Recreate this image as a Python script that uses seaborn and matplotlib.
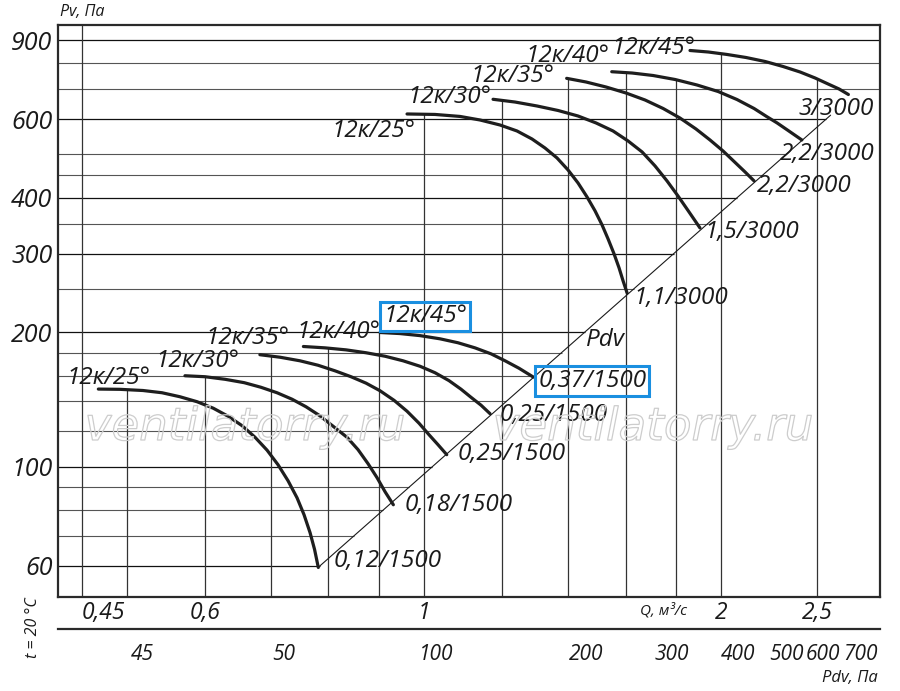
import numpy as np
import pandas as pd
import seaborn as sns
import matplotlib.pyplot as plt
import matplotlib.ticker as ticker
import matplotlib.patheffects as pe

# --- data (Q in m3/s, Pv in Pa) ---
q_3000_25 = [0.9609, 1.0257, 1.0873, 1.1392, 1.1935, 1.2418, 1.2860, 1.3255, 1.3631, 1.3985,
             1.4316, 1.4621, 1.4897, 1.5142, 1.5355, 1.5571, 1.5754, 1.5902, 1.6050]
p_3000_25 = [615.8, 614.3, 608.0, 597.0, 581.8, 564.1, 541.3, 516.8, 491.0, 461.6,
             431.6, 401.5, 373.7, 347.6, 323.5, 299.5, 278.6, 260.6, 245.0]
q_3000_30 = [1.1743, 1.2360, 1.3014, 1.3668, 1.4316, 1.4932, 1.5535, 1.6089, 1.6624, 1.7132,
             1.7618, 1.8075, 1.8544, 1.9025]
p_3000_30 = [664.2, 654.9, 641.6, 626.9, 609.4, 587.9, 564.1, 535.8, 506.3, 471.2,
             436.1, 403.6, 371.8, 342.3]
q_3000_35 = [1.3942, 1.4587, 1.5284, 1.6014, 1.6740, 1.7460, 1.8156, 1.8849, 1.9475, 2.0075,
             2.0597, 2.1135, 2.1584]
p_3000_35 = [739.9, 726.1, 707.6, 686.0, 661.7, 633.4, 603.2, 570.0, 538.6, 509.0,
             482.2, 456.7, 436.1]
q_3000_40 = [1.5488, 1.6240, 1.7056, 1.7954, 1.8893, 1.9848, 2.0741, 2.1584, 2.2236, 2.2776,
             2.3368, 2.4127]
p_3000_40 = [765.6, 760.5, 750.8, 735.5, 715.0, 691.4, 663.4, 633.4, 607.3, 587.9,
             565.5, 538.6]
q_3000_45 = [1.8588, 1.9398, 2.0263, 2.1184, 2.2148, 2.3091, 2.4032, 2.4885, 2.5650, 2.6316,
             2.6893]
p_3000_45 = [854.1, 847.5, 836.8, 823.8, 807.0, 786.5, 764.4, 741.2, 718.7, 700.4, 680.8]

q_1500_25 = [0.4678, 0.4920, 0.5191, 0.5427, 0.5659, 0.5888, 0.6115, 0.6331, 0.6542, 0.6741,
             0.6933, 0.7113, 0.7281, 0.7435, 0.7557, 0.7664, 0.7745, 0.7813]
p_1500_25 = [149.2, 149.0, 148.1, 146.4, 143.4, 139.8, 135.2, 129.7, 123.5, 116.4,
             108.9, 101.0, 93.0, 85.2, 78.1, 71.2, 65.3, 59.5]
q_1500_30 = [0.5725, 0.5999, 0.6287, 0.6573, 0.6834, 0.7096, 0.7349, 0.7592, 0.7826, 0.8087,
             0.8353, 0.8571, 0.8773, 0.8960, 0.9129, 0.9307]
p_1500_30 = [159.8, 159.0, 156.9, 154.2, 150.6, 146.4, 141.6, 136.2, 130.4, 123.2,
             116.4, 109.2, 101.6, 94.5, 87.9, 82.2]
q_1500_35 = [0.6818, 0.7147, 0.7486, 0.7807, 0.8124, 0.8432, 0.8734, 0.9023, 0.9322, 0.9609,
             0.9882, 1.0115, 1.0329, 1.0541]
p_1500_35 = [178.1, 175.8, 172.6, 168.7, 163.9, 159.0, 153.8, 147.9, 140.8, 133.1,
             125.1, 117.9, 112.0, 106.4]
q_1500_40 = [0.7546, 0.7937, 0.8336, 0.8734, 0.9129, 0.9520, 0.9905, 1.0257, 1.0598, 1.0898,
             1.1155, 1.1419, 1.1662]
p_1500_40 = [185.8, 184.5, 182.6, 179.9, 176.7, 172.6, 167.8, 162.3, 155.8, 149.1,
             143.0, 137.3, 131.4]
q_1500_45 = [0.9023, 0.9453, 0.9905, 1.0378, 1.0822, 1.1259, 1.1688, 1.2077, 1.2476, 1.2901]
p_1500_45 = [199.7, 198.6, 196.5, 193.3, 189.4, 184.5, 178.9, 172.6, 166.1, 158.7]

curve_names = ['12к/25°', '12к/30°', '12к/35°', '12к/40°', '12к/45°']
motor_3000 = ['1,1/3000', '1,5/3000', '2,2/3000', '2,2/3000', '3/3000']
motor_1500 = ['0,12/1500', '0,18/1500', '0,25/1500', '0,25/1500', '0,37/1500']

# dynamic pressure line
pdv_q = [0.781, 2.58]
pdv_p = [59.5, 612]

# grid and ticks
hgrid = [60, 70, 80, 90, 100, 120, 140, 160, 180, 200, 250, 300, 350, 400, 450,
         500, 600, 700, 800, 900]
vgrid = [0.45, 0.5, 0.6, 0.7, 0.8, 0.9, 1.0, 1.2, 1.4, 1.6, 1.8, 2.0, 2.5]
p_ticks = [60, 100, 200, 300, 400, 600, 900]
q_ticks = [0.45, 0.6, 1, 2, 2.5]
q_tick_labels = ['0,45', '0,6', '1', '2', '2,5']
pdv_tick_q = [0.518, 0.720, 1.028, 1.459, 1.783, 2.079, 2.325, 2.535, 2.763]
pdv_tick_labels = ['45', '50', '100', '200', '300', '400', '500', '600', '700']

curves_3000 = [(q_3000_25, p_3000_25), (q_3000_30, p_3000_30), (q_3000_35, p_3000_35),
               (q_3000_40, p_3000_40), (q_3000_45, p_3000_45)]
curves_1500 = [(q_1500_25, p_1500_25), (q_1500_30, p_1500_30), (q_1500_35, p_1500_35),
               (q_1500_40, p_1500_40), (q_1500_45, p_1500_45)]

rows = []
for speed, curves in [(3000, curves_3000), (1500, curves_1500)]:
    for name, (qs, ps) in zip(curve_names, curves):
        for q, p in zip(qs, ps):
            rows.append({'curve': f'{speed} {name}', 'q': q, 'p': p})
df = pd.DataFrame(rows)

sns.set_style('white')
plt.rcParams['font.family'] = ['Open Sans', 'DejaVu Sans']
plt.rcParams['font.style'] = 'italic'
TXT = dict(fontstyle='italic', color='#1a1a1a')

fig = plt.figure(figsize=(9, 6.91), dpi=100)
ax = fig.add_axes([58 / 900, 1 - 597 / 691, 822 / 900, 572 / 691])
ax.set_xscale('log')
ax.set_yscale('log')
xmin, xmax = 0.4258, 2.895
ymin, ymax = 51.1, 974
ax.set_xlim(xmin, xmax)
ax.set_ylim(ymin, ymax)

all_curves = curves_3000 + curves_1500

# horizontal grid lines stop at the Pdv line
slope = np.log(pdv_p[1] / pdv_p[0]) / np.log(pdv_q[1] / pdv_q[0])
for p in hgrid:
    if p <= pdv_p[1]:
        q_end = pdv_q[0] * (p / pdv_p[0]) ** (1 / slope)
    else:
        q_end = xmax
    dark = p in p_ticks
    ax.plot([xmin, q_end], [p, p], color='#111111' if dark else '#555555',
            lw=0.9 if dark else 0.8, zorder=1, solid_capstyle='butt')

# vertical grid lines go up to the highest curve above them
for q in vgrid:
    top = None
    for qs, ps in all_curves:
        if qs[0] * 0.98 <= q <= qs[-1]:
            v = np.interp(np.log(q), np.log(qs), ps)
            top = v if top is None else max(top, v)
    if top is None:
        top = ymax
    ax.plot([q, q], [ymin, top], color='#333333', lw=0.9, zorder=1, solid_capstyle='butt')

ax.plot(pdv_q, pdv_p, color='#1a1a1a', lw=0.8, zorder=2)

sns.lineplot(data=df, x='q', y='p', units='curve', estimator=None, sort=False,
             color='#1e1e1e', lw=2.3, ax=ax, zorder=3)
for line in ax.get_lines()[-10:]:
    line.set_solid_capstyle('round')
    line.set_solid_joinstyle('round')

# curve labels
start_off_3000 = [(8, -17), (-2, 2), (-12, 2), (-2, 16), (5, 2)]
end_off_3000 = [(6, -5), (5, -4), (3, -5), (-22, -14), (-50, -15)]
start_off_1500 = [(52, 11), (55, 15), (30, 17), (77, 14), (87, 16)]
end_off_1500 = [(15, 6), (11, 0), (11, 1), (10, -1), (5, -4)]
box = dict(boxstyle='square,pad=0.12', fc='none', ec='#1a8fe0', lw=2.2)
LBL = 17.5

for i, (qs, ps) in enumerate(curves_3000):
    ax.annotate(curve_names[i], (qs[0], ps[0]), xytext=start_off_3000[i],
                textcoords='offset pixels', ha='right', va='center', fontsize=LBL, zorder=4, **TXT)
    ax.annotate(motor_3000[i], (qs[-1], ps[-1]), xytext=end_off_3000[i],
                textcoords='offset pixels', ha='left', va='center', fontsize=LBL, zorder=4, **TXT)
for i, (qs, ps) in enumerate(curves_1500):
    b = box if i == 4 else None
    ax.annotate(curve_names[i], (qs[0], ps[0]), xytext=start_off_1500[i],
                textcoords='offset pixels', ha='right', va='center', fontsize=LBL, zorder=4,
                bbox=b, **TXT)
    ax.annotate(motor_1500[i], (qs[-1], ps[-1]), xytext=end_off_1500[i],
                textcoords='offset pixels', ha='left', va='center', fontsize=LBL, zorder=4,
                bbox=b, **TXT)

ax.text(1.46, 192, 'Pdv', ha='left', va='center', fontsize=LBL, zorder=4, **TXT)

# watermark
for xw in [245 / 900, 653 / 900]:
    fig.text(xw, 1 - 440 / 691, 'ventilatorry.ru', ha='center', va='baseline', fontsize=32.5,
             family='DejaVu Sans', fontweight='light', fontstyle='italic',
             color=(1, 1, 1, 0), zorder=5,
             path_effects=[pe.Stroke(linewidth=0.9, foreground='#cdcdcd')])

# axes styling
ax.set_xlabel('')
ax.set_ylabel('')
ax.yaxis.set_major_locator(ticker.FixedLocator(p_ticks))
ax.yaxis.set_major_formatter(ticker.FixedFormatter([str(v) for v in p_ticks]))
ax.yaxis.set_minor_locator(ticker.NullLocator())
ax.xaxis.set_major_locator(ticker.FixedLocator(q_ticks))
ax.xaxis.set_major_formatter(ticker.FixedFormatter(q_tick_labels))
ax.xaxis.set_minor_locator(ticker.NullLocator())
ax.tick_params(axis='both', length=0, labelcolor='#1a1a1a')
ax.tick_params(axis='y', pad=4, labelsize=18)
ax.tick_params(axis='x', pad=3, labelsize=16.5)
ax.get_xticklabels()[0].set_ha('left')
for s in ax.spines.values():
    s.set_visible(True)
    s.set_linewidth(1.6)
    s.set_color('#2a2a2a')

# Pdv scale under the chart
ax2 = fig.add_axes([58 / 900, 1 - 629 / 691, 822 / 900, 0.001])
ax2.patch.set_visible(False)
ax2.set_xscale('log')
ax2.set_xlim(xmin, xmax)
ax2.set_yticks([])
for side in ['top', 'left', 'right']:
    ax2.spines[side].set_visible(False)
ax2.spines['bottom'].set_linewidth(1.6)
ax2.spines['bottom'].set_color('#2a2a2a')
ax2.xaxis.set_major_locator(ticker.FixedLocator(pdv_tick_q))
ax2.xaxis.set_major_formatter(ticker.FixedFormatter(pdv_tick_labels))
ax2.xaxis.set_minor_locator(ticker.NullLocator())
ax2.tick_params(axis='x', direction='inout', length=7, width=0.9, color='#2a2a2a',
                pad=7, labelsize=15, labelcolor='#1a1a1a')

# axis titles
fig.text(60 / 900, 1 - 12 / 691, 'Pv, Па', ha='left', va='center', fontsize=11.5, **TXT)
fig.text(640 / 900, 1 - 611 / 691, 'Q, м³/с', ha='left', va='center', fontsize=11, **TXT)
fig.text(878 / 900, 1 - 678 / 691, 'Pdv, Па', ha='right', va='center', fontsize=12, **TXT)
fig.text(33 / 900, 1 - 628 / 691, 't = 20 °C', ha='center', va='center', rotation=90,
         fontsize=11.5, **TXT)

fig.savefig('out.png', dpi=100)
